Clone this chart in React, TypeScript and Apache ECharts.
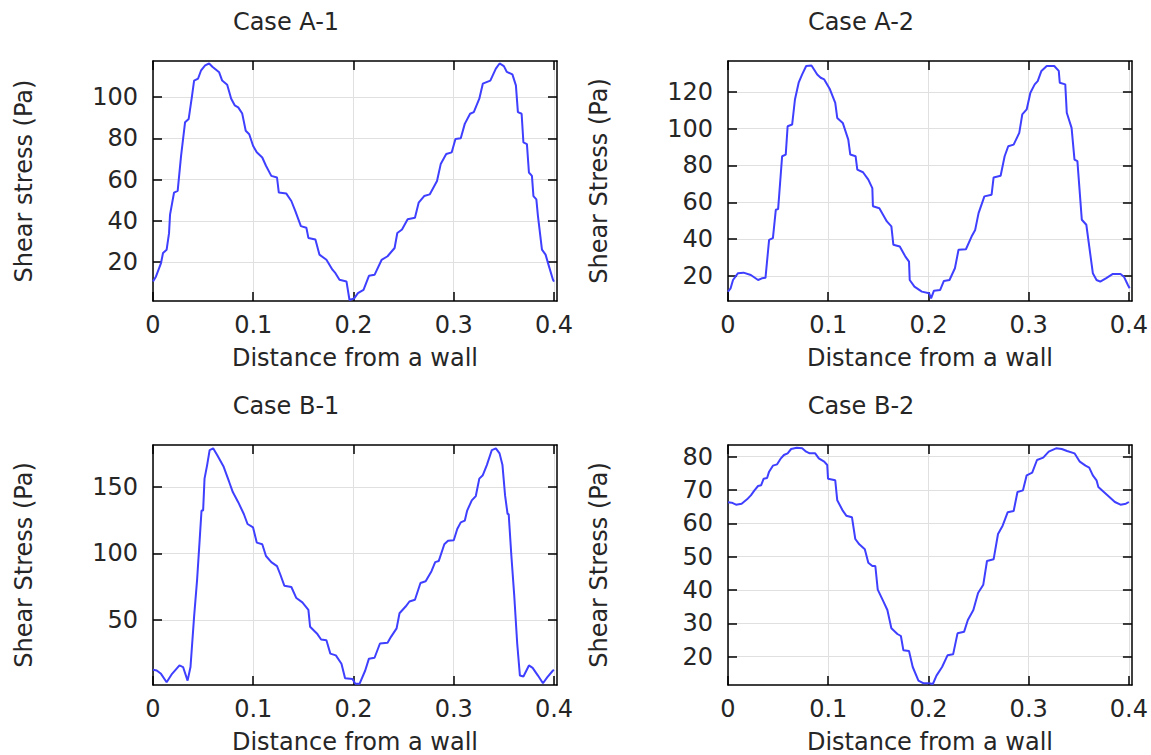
import React, { useEffect, useRef } from "react";
import * as echarts from "echarts";

// ---------- data ----------
const xTicks = [0, 0.1, 0.2, 0.3, 0.4];

const a1X = [0, 0.003, 0.008, 0.01, 0.0136, 0.016, 0.017, 0.021, 0.0246, 0.028, 0.032, 0.0356, 0.039, 0.041, 0.045, 0.048, 0.052, 0.056, 0.0595, 0.066, 0.069, 0.074, 0.078, 0.0815, 0.085, 0.089, 0.0925, 0.096, 0.0998, 0.1035, 0.109, 0.1127, 0.118, 0.1237, 0.1255, 0.133, 0.138, 0.142, 0.1475, 0.153, 0.155, 0.162, 0.166, 0.173, 0.179, 0.182, 0.186, 0.193, 0.196, 0.2007, 0.2044, 0.21, 0.2154, 0.221, 0.228, 0.234, 0.241, 0.2437, 0.2484, 0.254, 0.2613, 0.265, 0.2705, 0.276, 0.2833, 0.287, 0.2925, 0.298, 0.3017, 0.307, 0.311, 0.3163, 0.32, 0.3255, 0.329, 0.3365, 0.342, 0.3457, 0.35, 0.353, 0.3585, 0.362, 0.364, 0.3677, 0.3695, 0.373, 0.375, 0.378, 0.3795, 0.3824, 0.384, 0.388, 0.3916, 0.395, 0.399, 0.4];
const a1Y = [10.5, 13, 19.5, 24.4, 26, 34, 43, 53.7, 54.5, 71.5, 87.8, 89.4, 100.8, 108, 109, 113, 115.4, 116.3, 114.6, 112, 108, 106, 99.2, 96, 95, 92, 83.7, 82, 76.4, 73.2, 70.7, 66.7, 61.8, 61, 53.7, 53.2, 49.6, 44.7, 37.4, 36.6, 31.7, 30.9, 23.6, 21.1, 16.3, 14.6, 11.4, 10.6, 1.6, 2.4, 4.9, 6.5, 13.3, 13.8, 21, 22.8, 26.8, 34.1, 35.8, 40.7, 41.5, 48.8, 52, 52.8, 59.3, 67.5, 72.4, 73.2, 79.7, 80, 87, 91.9, 92.7, 99.2, 106.5, 108, 113.8, 116.3, 115, 112.2, 111, 105.7, 92.7, 91.9, 78, 77.2, 63.4, 61.8, 52, 50.4, 42.3, 26, 23.6, 17.9, 11.4, 10.5];
const a1Ticks = [20, 40, 60, 80, 100];

const a2X = [0, 0.0026, 0.005, 0.01, 0.0154, 0.0228, 0.03, 0.0338, 0.0374, 0.041, 0.0448, 0.0477, 0.05, 0.054, 0.0576, 0.0595, 0.064, 0.0668, 0.0705, 0.074, 0.078, 0.0833, 0.089, 0.0925, 0.096, 0.1017, 0.107, 0.109, 0.1145, 0.12, 0.122, 0.1273, 0.129, 0.1347, 0.14, 0.144, 0.1446, 0.151, 0.1585, 0.163, 0.165, 0.1714, 0.177, 0.1806, 0.1813, 0.186, 0.1934, 0.2007, 0.2026, 0.2055, 0.2117, 0.2154, 0.221, 0.2264, 0.23, 0.2374, 0.243, 0.2466, 0.25, 0.2558, 0.263, 0.265, 0.272, 0.276, 0.2796, 0.285, 0.2906, 0.2936, 0.298, 0.3017, 0.306, 0.309, 0.3127, 0.318, 0.3255, 0.33, 0.331, 0.3365, 0.338, 0.3428, 0.3457, 0.3486, 0.353, 0.3575, 0.364, 0.3677, 0.3714, 0.377, 0.384, 0.3916, 0.395, 0.399, 0.4007];
const a2Y = [11.5, 13.3, 17.8, 21.5, 21.8, 20.5, 17.8, 18.7, 19, 39.6, 40.5, 55.9, 56.3, 85, 85.9, 101.3, 102.2, 115.8, 124.9, 129.4, 134, 134.3, 129.4, 127.6, 126.7, 121.3, 114, 105.8, 103.1, 94, 85.9, 85, 77.7, 76.3, 72.3, 67.7, 57.8, 56.8, 49.6, 46.9, 36.9, 36, 30.5, 27.8, 17.8, 14.2, 11.5, 10.6, 7.8, 12, 12.4, 17.3, 17.8, 24.2, 34.2, 34.5, 41.4, 45, 54.1, 63.2, 64.1, 73.5, 74.4, 85, 90.4, 91.3, 97.7, 107.7, 110.4, 119.5, 124, 125.8, 131.3, 134, 134, 131.3, 124.9, 124, 108.6, 100.4, 83.2, 82.3, 50.5, 47.8, 21.5, 17.8, 16.9, 18.7, 21.1, 21.1, 19.6, 15.1, 13.3];
const a2Ticks = [20, 40, 60, 80, 100, 120];

const b1X = [0, 0.0037, 0.008, 0.0136, 0.019, 0.0264, 0.03, 0.0345, 0.0374, 0.041, 0.044, 0.0466, 0.0484, 0.05, 0.0514, 0.054, 0.0565, 0.06, 0.064, 0.0705, 0.076, 0.0796, 0.085, 0.0906, 0.0943, 0.0998, 0.1035, 0.109, 0.1127, 0.118, 0.1237, 0.127, 0.131, 0.138, 0.143, 0.149, 0.155, 0.1567, 0.164, 0.1677, 0.173, 0.1769, 0.1824, 0.188, 0.1916, 0.199, 0.2018, 0.206, 0.2117, 0.2154, 0.221, 0.2264, 0.234, 0.2374, 0.243, 0.2459, 0.252, 0.2558, 0.2613, 0.2668, 0.272, 0.2778, 0.2815, 0.285, 0.2906, 0.2943, 0.3, 0.3035, 0.307, 0.311, 0.3134, 0.318, 0.322, 0.3255, 0.329, 0.333, 0.338, 0.342, 0.3457, 0.3486, 0.3512, 0.3537, 0.3548, 0.3575, 0.3604, 0.3633, 0.366, 0.3695, 0.375, 0.3787, 0.384, 0.389, 0.3934, 0.399, 0.4];
const b1Y = [12.5, 12, 9.5, 3.2, 9.5, 15.8, 14.6, 4.4, 14.6, 52.5, 80.4, 110.8, 132.3, 132.3, 156.3, 166.5, 177.8, 179.1, 174, 165.2, 153.8, 146.2, 138.6, 129.7, 122.2, 119.6, 108.2, 107, 98.1, 93.5, 90.5, 84.2, 75.8, 74.8, 66.5, 63.2, 57.6, 44.9, 39.4, 35.3, 34.8, 24.7, 23.4, 17.1, 6.2, 5.7, 2, 2, 12, 20.9, 21.6, 32.3, 32.8, 37.3, 43.7, 55.1, 60.1, 63.9, 65.2, 77.8, 79.1, 86.7, 93.5, 94.3, 107, 109.5, 110, 118.4, 123.4, 124.7, 132.3, 139.9, 143.2, 156.3, 158.9, 166.5, 177.8, 179.1, 175.3, 166.5, 143.7, 129.7, 129.7, 98.1, 67.7, 32.3, 8.2, 7.5, 15.8, 14, 8.2, 2.4, 7, 12, 12.5];
const b1Ticks = [50, 100, 150];

const b2X = [0, 0.0037, 0.008, 0.0136, 0.019, 0.0228, 0.0264, 0.03, 0.033, 0.0356, 0.039, 0.041, 0.0448, 0.049, 0.0528, 0.0558, 0.0595, 0.063, 0.0686, 0.074, 0.078, 0.0815, 0.087, 0.0906, 0.096, 0.099, 0.0998, 0.107, 0.109, 0.1145, 0.118, 0.1237, 0.127, 0.131, 0.1365, 0.14, 0.144, 0.147, 0.1494, 0.155, 0.159, 0.163, 0.169, 0.1725, 0.175, 0.1806, 0.1843, 0.19, 0.1952, 0.2007, 0.2044, 0.208, 0.2136, 0.219, 0.2246, 0.229, 0.2356, 0.2393, 0.2448, 0.2495, 0.2547, 0.2584, 0.265, 0.2694, 0.274, 0.279, 0.285, 0.2888, 0.2943, 0.298, 0.3035, 0.3083, 0.3145, 0.32, 0.3273, 0.333, 0.3383, 0.3457, 0.351, 0.3567, 0.3604, 0.364, 0.3677, 0.3695, 0.375, 0.3805, 0.386, 0.3916, 0.397, 0.4];
const b2Y = [66.3, 66.2, 65.6, 65.9, 67.2, 68.4, 69.9, 71.2, 71.4, 73.4, 73.6, 75.5, 77.3, 77.7, 79.5, 80.5, 81, 82.3, 82.7, 82.5, 81.5, 81, 81, 79.5, 78.5, 77.5, 73.4, 72.9, 66.9, 63.8, 62.3, 61.8, 55.3, 53.7, 52.2, 48.2, 47.2, 47.2, 40.1, 36.6, 34, 28.5, 26.8, 26.2, 21.9, 21.7, 16.9, 12.8, 12, 12, 11.8, 14.3, 16.9, 20.4, 20.7, 27, 27.5, 31, 34, 39.1, 41.6, 48.7, 49.2, 56.8, 59.3, 63.3, 63.7, 69.4, 69.9, 74.4, 75.2, 79, 79.7, 81.5, 82.5, 82.3, 81.7, 81, 78.5, 77.3, 76.7, 74.4, 72.9, 70.9, 69.4, 67.9, 66.4, 65.6, 65.9, 66.4];
const b2Ticks = [20, 30, 40, 50, 60, 70, 80];

const titles = ["Case A-1", "Case A-2", "Case B-1", "Case B-2"];
const yNames = ["Shear stress (Pa)", "Shear Stress (Pa)", "Shear Stress (Pa)", "Shear Stress (Pa)"];
const xName = "Distance from a wall";

// ---------- layout ----------
const FONT = "DejaVu Sans";
const FS = 24;
const TEXT = "#262626";
const LINE = "#3f3fff";
const GRIDC = "#e0e0e0";
const xMax = 0.403;

const panels = [
  { xs: a1X, ys: a1Y, ticks: a1Ticks, yMin: 1.1, yMax: 117.5, grid: { left: 153, top: 61, width: 404, height: 240 }, tx: 286, ty: 22 },
  { xs: a2X, ys: a2Y, ticks: a2Ticks, yMin: 6.4, yMax: 136.7, grid: { left: 728, top: 61, width: 405, height: 240 }, tx: 861, ty: 22 },
  { xs: b1X, ys: b1Y, ticks: b1Ticks, yMin: 1.1, yMax: 181.6, grid: { left: 153, top: 445, width: 404, height: 241 }, tx: 286, ty: 406 },
  { xs: b2X, ys: b2Y, ticks: b2Ticks, yMin: 11.5, yMax: 83.5, grid: { left: 728, top: 445, width: 405, height: 241 }, tx: 861, ty: 406 },
];

function buildOption() {
  const axisLine = { show: true, onZero: false, lineStyle: { color: "#000", width: 1.5 } };
  const tickStyle = { color: "#000", width: 1.5 };
  const labelStyle = { color: TEXT, fontFamily: FONT, fontSize: FS };
  const xAxis: any[] = [];
  const yAxis: any[] = [];
  panels.forEach((p, i) => {
    xAxis.push({
      type: "value", gridIndex: i, position: "bottom", min: 0, max: xMax,
      axisLine,
      axisTick: { show: true, inside: true, length: 9, lineStyle: tickStyle, customValues: xTicks },
      axisLabel: { show: true, customValues: xTicks, margin: 12, formatter: (v: number) => String(v), ...labelStyle },
      splitLine: { show: true, lineStyle: { color: GRIDC, width: 1 } },
      name: xName, nameLocation: "middle", nameGap: 45,
      nameTextStyle: { ...labelStyle },
    });
    xAxis.push({
      type: "value", gridIndex: i, position: "top", min: 0, max: xMax,
      axisLine,
      axisTick: { show: true, inside: true, length: 9, lineStyle: tickStyle, customValues: xTicks },
      axisLabel: { show: false },
      splitLine: { show: false },
    });
    yAxis.push({
      type: "value", gridIndex: i, position: "left", min: p.yMin, max: p.yMax,
      axisLine,
      axisTick: { show: true, inside: true, length: 9, lineStyle: tickStyle, customValues: p.ticks },
      axisLabel: { show: true, customValues: p.ticks, margin: 15, ...labelStyle },
      splitLine: { show: true, lineStyle: { color: GRIDC, width: 1 } },
      name: yNames[i], nameLocation: "middle", nameGap: 117,
      nameTextStyle: { ...labelStyle },
    });
    yAxis.push({
      type: "value", gridIndex: i, position: "right", min: p.yMin, max: p.yMax,
      axisLine,
      axisTick: { show: true, inside: true, length: 9, lineStyle: tickStyle, customValues: p.ticks },
      axisLabel: { show: false },
      splitLine: { show: false },
    });
  });
  return {
    animation: false,
    backgroundColor: "#ffffff",
    grid: panels.map((p) => ({ ...p.grid, containLabel: false })),
    xAxis,
    yAxis,
    series: panels.map((p, i) => ({
      type: "line",
      xAxisIndex: 2 * i,
      yAxisIndex: 2 * i,
      data: p.xs.map((x, j) => [x, p.ys[j]]),
      symbol: "none",
      showSymbol: false,
      clip: true,
      lineStyle: { color: LINE, width: 2 },
    })),
    graphic: panels.map((p, i) => ({
      type: "text",
      x: p.tx,
      y: p.ty,
      style: {
        text: titles[i],
        fontSize: FS,
        fontFamily: FONT,
        fill: TEXT,
        align: "center",
        verticalAlign: "middle",
        textAlign: "center",
        textVerticalAlign: "middle",
      },
    })),
  };
}

export default function App() {
  const ref = useRef<HTMLDivElement>(null);
  useEffect(() => {
    if (!ref.current) return;
    const chart = echarts.init(ref.current, null, { renderer: "svg" });
    chart.setOption(buildOption() as any);
    return () => chart.dispose();
  }, []);
  return (
    <div
      ref={ref}
      style={{ position: "fixed", left: 0, top: 0, width: 1151, height: 755, background: "#fff" }}
    />
  );
}
